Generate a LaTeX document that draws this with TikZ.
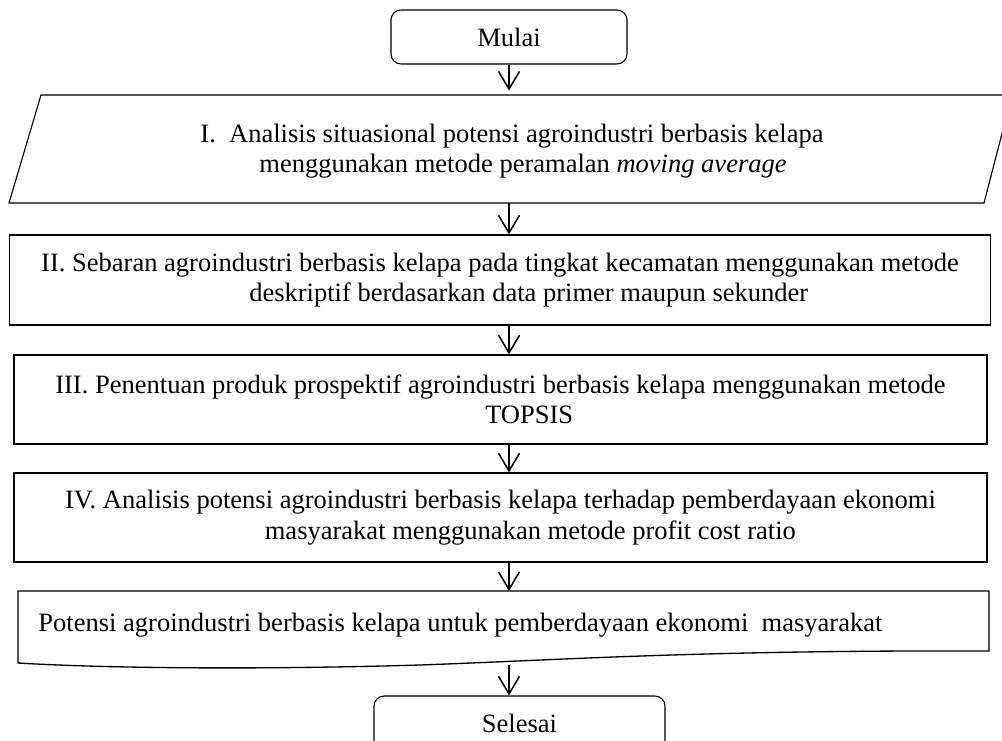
\documentclass[tikz,border=0pt]{standalone}
\usepackage{fontspec}
\setmainfont{Liberation Serif}
\usetikzlibrary{arrows.meta}

\tikzset{
  ujung/.style={draw, rounded corners=4.5pt, line width=0.5pt, minimum height=24.4pt, inner sep=2pt},
  tahap/.style={draw, line width=0.5pt, minimum width=440.3pt, minimum height=40.3pt, align=center, inner xsep=1pt},
  panah/.style={-{Straight Barb[length=8pt,width=9.5pt]}, line width=0.7pt},
}

\begin{document}
\begin{tikzpicture}[x=0.4525pt, y=-0.4525pt, font=\fontsize{12}{13.8}\selectfont]
\useasboundingbox (0,0) rectangle (1002,740);
\clip (0,0) rectangle (1002,740);

% mulai
\node [ujung, minimum width=106.8pt] (mulai) at (509,37) {Mulai};

% tahap I
\draw [line width=0.5pt] (41,95) -- (1012,95) -- (984,203) -- (9,203) -- cycle;
\coordinate (tahapIatas) at (509,95);
\coordinate (tahapIbawah) at (509,203);
\node [align=center] (tahapI) at (512,151) {I.\ \ Analisis situasional potensi agroindustri berbasis kelapa\\
  \hspace*{10pt}menggunakan metode peramalan \textit{moving average}};

% tahap II - IV
\node [tahap, minimum width=443.5pt, minimum height=40.7pt] (tahapII) at (500,280) {II. Sebaran agroindustri berbasis kelapa pada tingkat kecamatan menggunakan metode\\
  \hspace*{26pt}deskriptif berdasarkan data primer maupun sekunder};
\node [tahap] (tahapIII) at (500.5,399.5) {III. Penentuan produk prospektif agroindustri berbasis kelapa menggunakan metode\\
  \hspace*{26pt}TOPSIS};
\node [tahap] (tahapIV) at (500.5,517.5) {IV. Analisis potensi agroindustri berbasis kelapa terhadap pemberdayaan ekonomi\\
  \hspace*{27pt}masyarakat menggunakan metode profit cost ratio};

% hasil (dokumen)
\draw [line width=0.6pt] (18,591) -- (989,591) -- (989,651)
  .. controls (700,650) and (560,660) .. (420,665)
  .. controls (250,670) and (100,668) .. (18,663) -- cycle;
\coordinate (hasilatas) at (509,591);
\coordinate (hasilbawah) at (509,665);
\node [anchor=west, inner sep=0pt] (hasil) at (38,625) {Potensi agroindustri berbasis kelapa untuk pemberdayaan ekonomi\ \ masyarakat};

% selesai
\node [ujung, minimum width=131.7pt] (selesai) at (519.5,723) {Selesai};

% panah
\draw [panah, shorten >=2pt] (mulai) -- (tahapIatas);
\draw [panah] (tahapIbawah) -- (tahapII.north -| mulai);
\draw [panah] (tahapII.south -| mulai) -- (tahapIII.north -| mulai);
\draw [panah] (tahapIII.south -| mulai) -- (tahapIV.north -| mulai);
\draw [panah] (tahapIV.south -| mulai) -- (hasilatas);
\draw [panah] (hasilbawah) -- (selesai.north -| mulai);

\end{tikzpicture}
\end{document}
